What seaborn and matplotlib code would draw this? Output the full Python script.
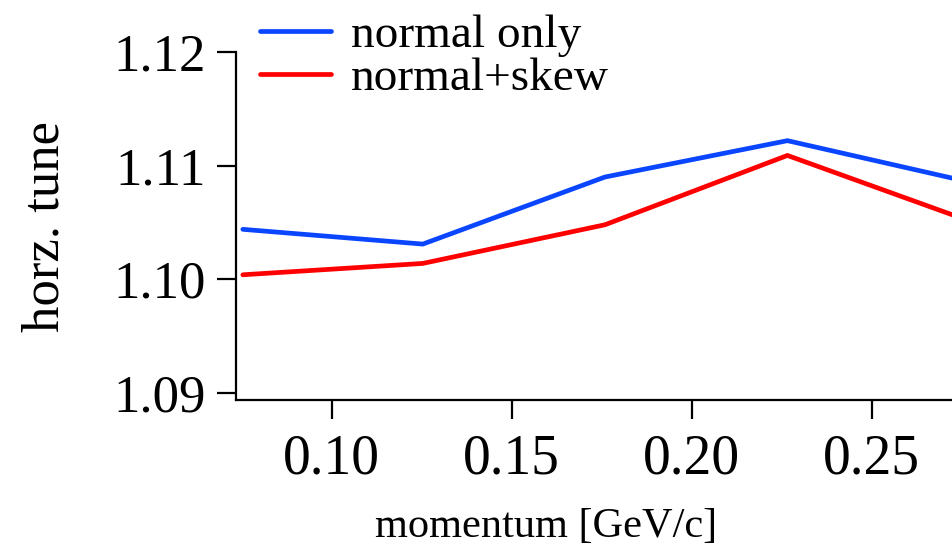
import matplotlib
matplotlib.use("Agg")
import matplotlib.pyplot as plt
import seaborn as sns
import pandas as pd

# Horizontal tune vs. beam momentum for two field-error models
momentum = [0.0753, 0.1253, 0.1759, 0.2266, 0.2766]
normal_only = [1.1044, 1.1031, 1.1090, 1.1122, 1.1086]
normal_skew = [1.1004, 1.1014, 1.1048, 1.1109, 1.1052]
series_names = ["normal only", "normal+skew"]
series_colors = ["#0a46ff", "#ff0000"]

x_ticks = [0.10, 0.15, 0.20, 0.25]
x_tick_labels = ["0.10", "0.15", "0.20", "0.25"]
y_ticks = [1.09, 1.10, 1.11, 1.12]
y_tick_labels = ["1.09", "1.10", "1.11", "1.12"]

df = pd.DataFrame({
    "momentum": momentum * 2,
    "tune": normal_only + normal_skew,
    "series": [series_names[0]] * len(momentum) + [series_names[1]] * len(momentum),
})

sns.set_theme(style="ticks")
plt.rcParams["font.family"] = ["Liberation Serif", "DejaVu Serif"]
plt.rcParams["text.color"] = "black"

W, H = 953, 552
fig = plt.figure(figsize=(W / 100, H / 100), dpi=100)
left, right, top, bottom = 236, 953, 52, 400
ax = fig.add_axes([left / W, 1 - bottom / H, (right - left) / W, (bottom - top) / H])

sns.lineplot(data=df, x="momentum", y="tune", hue="series",
             palette=dict(zip(series_names, series_colors)),
             linewidth=3.4, ax=ax, legend=True)

ax.set_xlim(0.0734, 0.2726)
ax.set_ylim(1.09 - 0.01 * 7 / 113.7, 1.12)
ax.set_xticks(x_ticks)
ax.set_xticklabels(x_tick_labels)
ax.set_yticks(y_ticks)
ax.set_yticklabels(y_tick_labels)

for side in ("top", "right"):
    ax.spines[side].set_visible(False)
for side in ("left", "bottom"):
    ax.spines[side].set_linewidth(1.6)
    ax.spines[side].set_color("black")

ax.tick_params(axis="both", direction="out", length=14, width=1.6,
               color="black", labelcolor="black")
ax.tick_params(axis="y", pad=8, labelsize=38)
ax.tick_params(axis="x", pad=10, labelsize=40)

ax.set_xlabel("momentum [GeV/c]", fontsize=30.5, color="black")
ax.set_ylabel("horz. tune", fontsize=38, color="black")
ax.xaxis.set_label_coords((546 - left) / (right - left), -0.31)
ax.yaxis.set_label_coords(-0.232, 0.5)

leg = ax.legend(loc="upper left", bbox_to_anchor=(260 / W, 1 - 14 / H),
                bbox_transform=fig.transFigure, frameon=False, fontsize=34,
                handlelength=1.5, handletextpad=0.42, labelspacing=0.0,
                borderpad=0.0, borderaxespad=0.0)
for line in leg.get_lines():
    line.set_linewidth(3.4)
for txt in leg.get_texts():
    txt.set_color("black")

fig.savefig("out.png", dpi=100, facecolor="white")
